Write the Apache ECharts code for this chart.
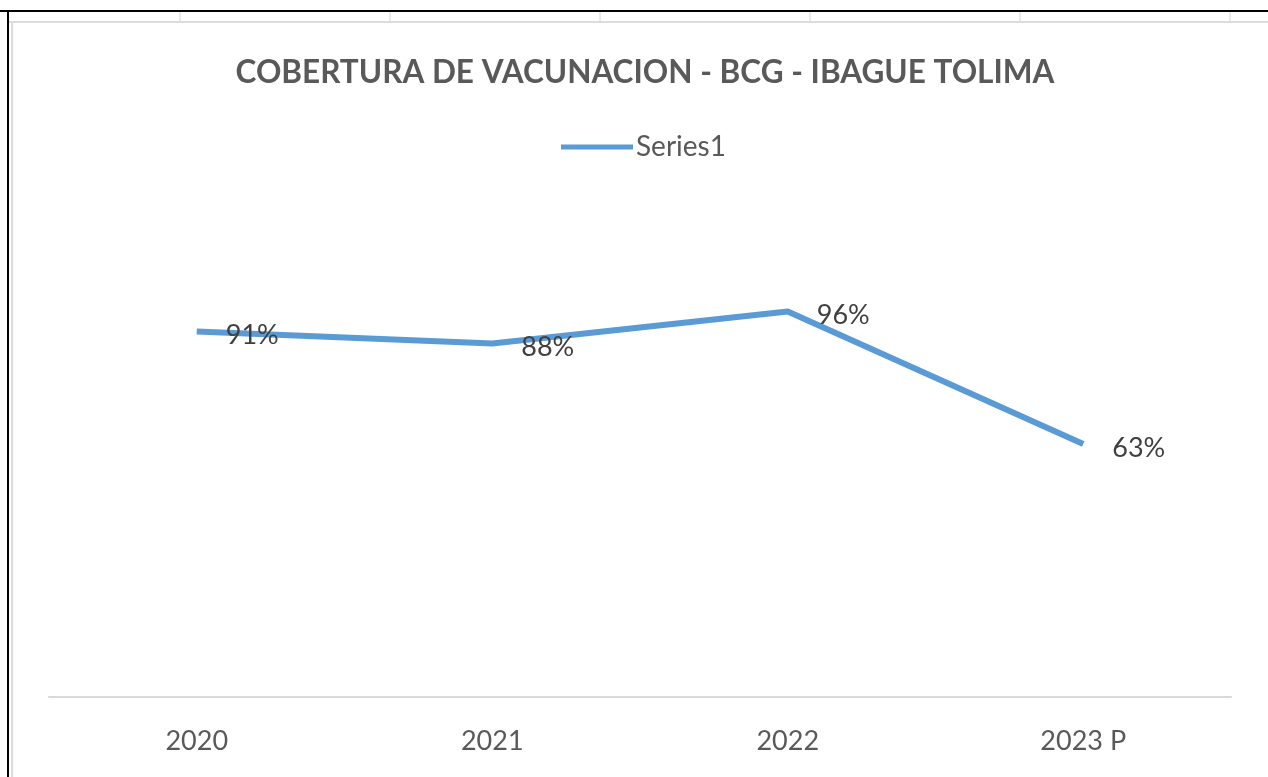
<!DOCTYPE html>
<html>
<head>
<meta charset="utf-8">
<title>Cobertura BCG</title>
<script src="https://cdn.jsdelivr.net/npm/echarts@6/dist/echarts.min.js"></script>
<style>
  html, body { margin: 0; padding: 0; background: #fff; }
  #chart { width: 1268px; height: 777px; }
</style>
</head>
<body>
<div id="chart"></div>
<script>
// datos de la grafica
var categorias = ['2020', '2021', '2022', '2023 P'];
var cobertura = [0.91, 0.88, 0.96, 0.63];
var nombreSerie = 'Series1';
var titulo = 'COBERTURA DE VACUNACION - BCG - IBAGUE TOLIMA';

var gris = '#595959';
var azul = '#5B9BD5';
var fuente = 'Lato';

// lineas de la hoja de calculo alrededor de la grafica
var celdas = [];
[180, 390, 600, 810, 1020, 1230].forEach(function (x) {
    celdas.push({ type: 'line', shape: { x1: x, y1: 11, x2: x, y2: 22 }, style: { stroke: '#d4d4d4', lineWidth: 1 } });
});
celdas.push({ type: 'line', shape: { x1: 8, y1: 22, x2: 1268, y2: 22 }, style: { stroke: '#dcdcdc', lineWidth: 2 } });
celdas.push({ type: 'line', shape: { x1: 12, y1: 22, x2: 12, y2: 777 }, style: { stroke: '#dcdcdc', lineWidth: 2 } });
celdas.push({ type: 'line', shape: { x1: 0, y1: 11, x2: 1268, y2: 11 }, style: { stroke: '#000', lineWidth: 2 } });
celdas.push({ type: 'line', shape: { x1: 8, y1: 11, x2: 8, y2: 777 }, style: { stroke: '#000', lineWidth: 2 } });

var option = {
    backgroundColor: '#fff',
    animation: false,
    graphic: celdas,
    title: {
        text: titulo,
        left: 640,
        textAlign: 'center',
        top: 52,
        textStyle: { color: gris, fontFamily: fuente, fontWeight: 'bold', fontSize: 31.5 }
    },
    legend: {
        data: [nombreSerie],
        left: 561,
        top: 133,
        padding: 0,
        itemWidth: 72,
        itemHeight: 5,
        itemGap: 0,
        icon: 'rect',
        textStyle: { color: gris, fontFamily: fuente, fontSize: 28, padding: [0, 0, 0, -2] }
    },
    grid: { left: 49, right: 37, top: 215, bottom: 80 },
    xAxis: {
        type: 'category',
        data: categorias,
        axisLine: { lineStyle: { color: '#d9d9d9', width: 2 } },
        axisTick: { show: false },
        axisLabel: { color: gris, fontFamily: fuente, fontSize: 27, margin: 31 }
    },
    yAxis: {
        type: 'value',
        min: 0,
        max: 1.2,
        show: false,
        splitLine: { show: false }
    },
    series: [{
        name: nombreSerie,
        type: 'line',
        data: cobertura,
        symbol: 'circle',
        symbolSize: 0,
        lineStyle: { color: azul, width: 6 },
        itemStyle: { color: azul },
        label: {
            show: true,
            position: 'right',
            distance: 29,
            offset: [0, 4],
            color: '#404040',
            fontFamily: fuente,
            fontSize: 27,
            formatter: function (p) { return Math.round(p.value * 100) + '%'; }
        }
    }]
};

var chart = echarts.init(document.getElementById('chart'));
chart.setOption(option);
</script>
</body>
</html>
